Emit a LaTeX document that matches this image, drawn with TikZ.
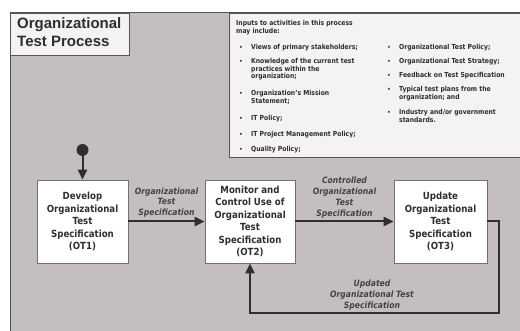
\documentclass[tikz,border=0pt]{standalone}
\usepackage{fontspec}
\setmainfont{DejaVu Sans}[FakeStretch=0.88]
\newfontfamily\titlefont{Liberation Sans}
\usetikzlibrary{arrows.meta}

\definecolor{panelgrey}{HTML}{C4BEBF}
\definecolor{paper}{HTML}{F4F2F3}
\definecolor{ink}{HTML}{2E2E2E}
\definecolor{edge}{HTML}{707070}
\definecolor{frame}{HTML}{555555}

\begin{document}
\begin{tikzpicture}[x=1pt,y=-1pt,
  stage/.style={draw=edge, line width=0.7pt, fill=white, inner sep=0pt,
    minimum height=83pt, align=center, text=ink,
    font=\bfseries\fontsize{9.8}{12.5}\selectfont},
  flow/.style={draw=ink, line width=2pt, line join=miter,
    -{Triangle[length=10pt,width=9pt]}},
  flowlabel/.style={align=center, inner sep=0pt, text=ink!90,
    font=\bfseries\itshape\fontsize{8.7}{10.8}\selectfont},
  inputline/.style={anchor=mid west, inner sep=0pt, text=ink,
    font=\bfseries\fontsize{6.9}{7.5}\selectfont},
  dotmark/.style={anchor=mid, inner sep=0pt, text=ink,
    font=\bfseries\fontsize{5.8}{7}\selectfont},
  titleline/.style={anchor=mid west, inner sep=0pt, text=ink,
    font=\titlefont\bfseries\fontsize{15}{18}\selectfont}
]
\useasboundingbox (0,0) rectangle (520,331);

% background panel
\fill[white] (0,0) rectangle (520,331);
\draw[frame, line width=1pt, fill=panelgrey] (10,13) rectangle (540,350);

% title box
\draw[frame, line width=0.8pt, fill=paper] (10,13) rectangle (129,55);
\node[titleline] (title1) at (17,25.5) {Organizational};
\node[titleline] (title2) at (17,43.5) {Test Process};

% inputs box
\draw[frame, line width=0.8pt, fill=paper] (229,13) rectangle (540,157);
\node[inputline] (hdr1) at (236,23) {Inputs to activities in this process};
\node[inputline] (hdr2) at (236,31) {may include:};

\foreach \y/\t [count=\i] in {
  47/{Views of primary stakeholders;},
  61/{Knowledge of the current test},
  93/{Organization's Mission},
  117.5/{IT Policy;},
  134/{IT Project Management Policy;},
  149/{Quality Policy;}} {
  \node[dotmark] (lb\i) at (241,\y) {\textbullet};
  \node[inputline] (lt\i) at (251,\y) {\t};
}
\node[inputline] (lt2b) at (251,68.5) {practices within the};
\node[inputline] (lt2c) at (251,76) {organization;};
\node[inputline] (lt3b) at (251,100.5) {Statement;};

\foreach \y/\t [count=\i] in {
  47/{Organizational Test Policy;},
  61/{Organizational Test Strategy;},
  75/{Feedback on Test Specification},
  89/{Typical test plans from the},
  112/{Industry and/or government}} {
  \node[dotmark] (rb\i) at (389,\y) {\textbullet};
  \node[inputline] (rt\i) at (399,\y) {\t};
}
\node[inputline] (rt4b) at (399,96.5) {organization; and};
\node[inputline] (rt5b) at (399,119.5) {standards.};

% process stages
\node[stage, minimum width=91pt] (ot1) at (82.5,221.5)
  {Develop\\Organizational\\Test\\Specification\\(OT1)};
\node[stage, minimum width=90pt] (ot2) at (250,221.5)
  {Monitor and\\Control Use of\\Organizational\\Test\\Specification\\(OT2)};
\node[stage, minimum width=93pt] (ot3) at (440.5,221.5)
  {Update\\Organizational\\Test\\Specification\\(OT3)};

% start marker
\node[circle, fill=ink, minimum size=12pt, inner sep=0pt] (start) at (82.5,150) {};
\draw[flow] (start) -- (ot1.north);

% flows between stages
\draw[flow] (ot1.east) -- (ot2.west);
\draw[flow] (ot2.east) -- (ot3.west);
\coordinate (loopcorner) at (499,313);
\draw[flow] (ot3.east) -| (loopcorner) -| (ot2.south);

% flow labels
\node[flowlabel] (lab1) at (166.5,202.5) {Organizational\\Test\\Specification};
\node[flowlabel] (lab2) at (344.5,197.5) {Controlled\\Organizational\\Test\\Specification};
\node[flowlabel] (lab3) at (372,295) {Updated\\Organizational Test\\Specification};
\end{tikzpicture}
\end{document}
